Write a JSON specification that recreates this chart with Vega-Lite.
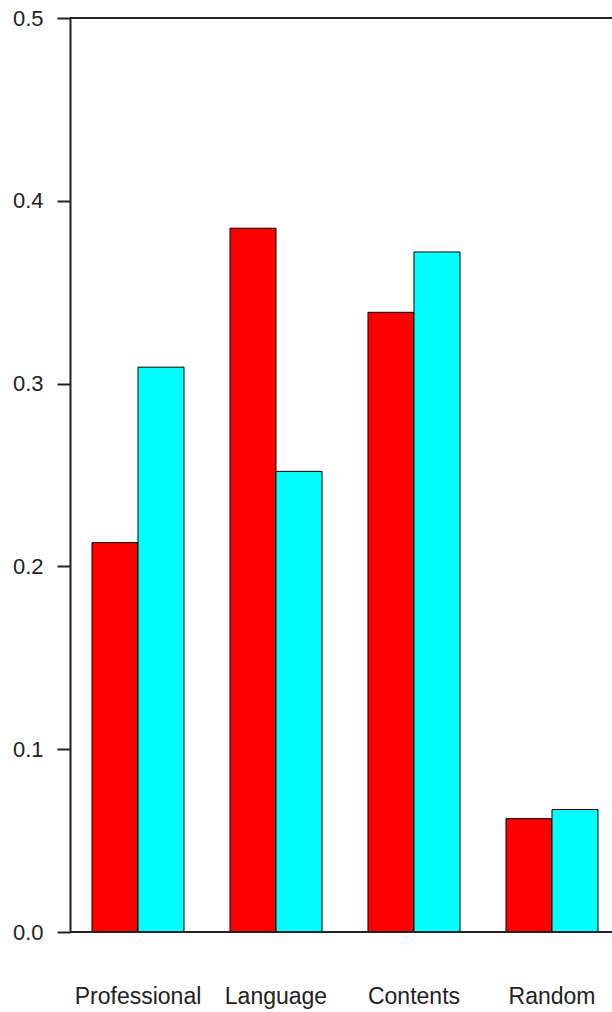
{
  "$schema": "https://vega.github.io/schema/vega-lite/v6.json",
  "width": 542,
  "height": 914,
  "autosize": {"type": "none"},
  "padding": {"left": 70, "top": 18, "right": 0, "bottom": 80},
  "background": "white",
  "config": {"view": {"stroke": null}, "font": "Liberation Sans, Arial, sans-serif"},
  "data": {
    "values": [
      {"category": "Professional", "group": "Series 1", "value": 0.213},
      {"category": "Professional", "group": "Series 2", "value": 0.309},
      {"category": "Language", "group": "Series 1", "value": 0.385},
      {"category": "Language", "group": "Series 2", "value": 0.252},
      {"category": "Contents", "group": "Series 1", "value": 0.339},
      {"category": "Contents", "group": "Series 2", "value": 0.372},
      {"category": "Random", "group": "Series 1", "value": 0.062},
      {"category": "Random", "group": "Series 2", "value": 0.067}
    ]
  },
  "layer": [
    {
      "mark": {"type": "bar", "stroke": "black", "strokeWidth": 1},
      "encoding": {
        "x": {
          "field": "category",
          "type": "nominal",
          "sort": ["Professional", "Language", "Contents", "Random"],
          "scale": {"paddingInner": 0.3333, "paddingOuter": 0.1304, "align": 0.611},
          "axis": {
            "title": null,
            "domain": false,
            "ticks": false,
            "tickSize": 0,
            "labelPadding": 53,
            "labelFontSize": 23,
            "labelColor": "#222",
            "labelAngle": 0
          }
        },
        "xOffset": {
          "field": "group",
          "type": "nominal",
          "sort": ["Series 1", "Series 2"],
          "scale": {"paddingInner": 0, "paddingOuter": 0}
        },
        "y": {
          "field": "value",
          "type": "quantitative",
          "scale": {"domain": [0, 0.5], "nice": false},
          "axis": {
            "title": null,
            "grid": false,
            "values": [0, 0.1, 0.2, 0.3, 0.4, 0.5],
            "format": ".1f",
            "tickSize": 13,
            "labelPadding": 14,
            "labelFontSize": 22,
            "labelColor": "#222",
            "domainColor": "#222",
            "tickColor": "#222",
            "domainWidth": 2,
            "tickWidth": 2
          }
        },
        "color": {
          "field": "group",
          "type": "nominal",
          "scale": {"domain": ["Series 1", "Series 2"], "range": ["#ff0000", "#00ffff"]},
          "legend": null
        }
      }
    },
    {
      "data": {"values": [{"level": 0}, {"level": 0.5}]},
      "mark": {"type": "rule", "color": "#222", "strokeWidth": 2},
      "encoding": {
        "y": {"field": "level", "type": "quantitative"}
      }
    }
  ]
}
